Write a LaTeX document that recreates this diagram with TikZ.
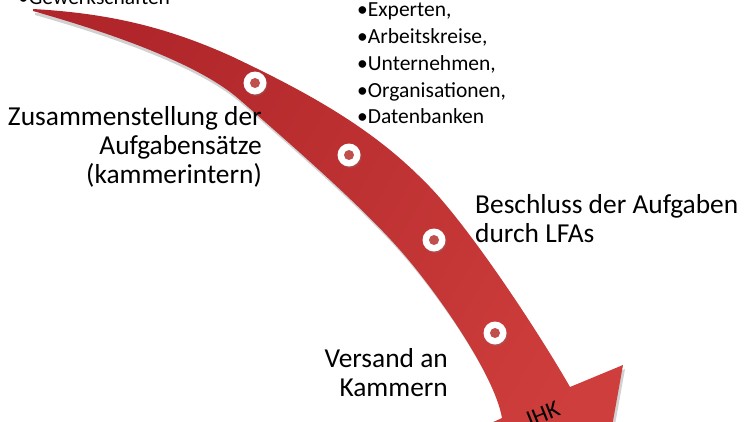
\documentclass[tikz,border=0pt]{standalone}
\usepackage{fontspec}
\setmainfont{Carlito}
\usetikzlibrary{shadows}
\definecolor{pfeildunkel}{RGB}{176,38,42}
\definecolor{pfeilrot}{RGB}{206,62,60}
\definecolor{punktrot}{RGB}{192,80,77}
\newcommand{\pfeilumriss}{(33,9) .. controls (103,13) and (163,25) .. (233,57)
  .. controls (298,88) and (368,124) .. (423,180)
  .. controls (463,218) and (535,326) .. (570,387)
  -- (623,365) -- (594,527) -- (450,442) -- (502,418)
  .. controls (494,372) and (432,286) .. (400,250)
  .. controls (360,204) and (280,135) .. (240,100)
  .. controls (195,60) and (93,28) .. (33,11) -- cycle}
\begin{document}
\begin{tikzpicture}[x=1pt, y=-1pt,
    gross/.style={font=\fontsize{27.4}{29}\selectfont, inner sep=0pt},
    klein/.style={font=\fontsize{21.5}{26.7}\selectfont, inner sep=0pt, align=left},
    punkt/.style={circle, fill=white, minimum size=23pt, inner sep=0pt,
      drop shadow={opacity=0.3, shadow xshift=1pt, shadow yshift=-1.5pt},
      path picture={\fill[punktrot] (path picture bounding box.center) circle (5pt);}}]
  \useasboundingbox (0,0) rectangle (749,421);
  \clip (0,0) rectangle (749,421);
  % Pfeil mit Schatten
  \fill[black, opacity=0.18, shift={(2,4)}] \pfeilumriss;
  \shade[left color=pfeildunkel, right color=pfeilrot, shading angle=60] \pfeilumriss;
  % Punkte auf dem Pfeil
  \node[punkt] (p1) at (255,83) {};
  \node[punkt] (p2) at (349,155) {};
  \node[punkt] (p3) at (434,240) {};
  \node[punkt] (p4) at (495,333) {};
  \node[rotate=22, inner sep=0pt, font=\fontsize{24}{28}\selectfont] (ihk) at (543,414) {IHK};
  % Beschriftungen
  \node[klein, anchor=base west] (gewerk) at (18,4) {•Gewerkschaften};
  \node[klein, anchor=north west] (quellen) at (357,3)
    {•Experten,\\•Arbeitskreise,\\•Unternehmen,\\•Organisationen,\\•Datenbanken};
  \node[gross, anchor=north east, align=right] (zusammen) at (262,106)
    {Zusammenstellung der\\Aufgabensätze\\(kammerintern)};
  \node[gross, anchor=north west, align=left] (beschluss) at (475,194)
    {Beschluss der Aufgaben\\durch LFAs};
  \node[gross, anchor=north east, align=right] (versand) at (448,348)
    {Versand an\\Kammern};
\end{tikzpicture}
\end{document}
